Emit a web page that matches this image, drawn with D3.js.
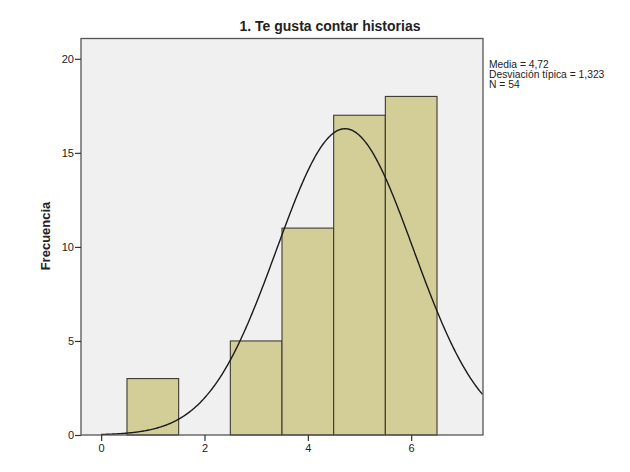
<!DOCTYPE html>
<html lang="es">
	<head>
		<meta charset="utf-8">
		<title>1. Te gusta contar historias</title>
		<script type="text/javascript" src="https://cdn.jsdelivr.net/npm/d3@7"></script>
		<style type="text/css">
			body { margin: 0; background: #fff; }
			text { font-family: "Liberation Sans", Arial, sans-serif; fill: #222; }
		</style>
	</head>
	<body>
		<script type="text/javascript">

			//Width and height
			var w = 630;
			var h = 472;

			//Histogram data (bins of width 1)
			var binCenters = [1, 2, 3, 4, 5, 6];
			var counts = [3, 0, 5, 11, 17, 18];
			var xTicks = [0, 2, 4, 6];
			var yTicks = [0, 5, 10, 15, 20];
			var stats = ["Media = 4,72", "Desviación típica = 1,323", "N = 54"];
			var mean = 4.72, sd = 1.323, n = 54;

			//Plot area (note: "top" is taken by window.top)
			var plotL = 81, plotR = 483, plotT = 38.5, plotB = 435;

			var xScale = d3.scaleLinear()
							.domain([-0.39, 7.39])
							.range([plotL, plotR]);

			var yScale = d3.scaleLinear()
							.domain([0, 21.08])
							.range([plotB, plotT]);

			var svg = d3.select("body")
						.append("svg")
						.attr("width", w)
						.attr("height", h);

			//Background
			svg.append("rect")
			   .attr("x", plotL)
			   .attr("y", plotT)
			   .attr("width", plotR - plotL)
			   .attr("height", plotB - plotT)
			   .attr("fill", "#f0f0f0");

			//Bars
			var bins = binCenters.map(function(d, i) { return { x: d, count: counts[i] }; })
								 .filter(function(d) { return d.count > 0; });

			svg.selectAll("rect.bar")
			   .data(bins)
			   .enter()
			   .append("rect")
			   .attr("class", "bar")
			   .attr("x", function(d) { return xScale(d.x - 0.5); })
			   .attr("y", function(d) { return yScale(d.count); })
			   .attr("width", function(d) { return xScale(d.x + 0.5) - xScale(d.x - 0.5); })
			   .attr("height", function(d) { return plotB - yScale(d.count); })
			   .attr("fill", "#d3ce98")
			   .attr("stroke", "#3c3c30")
			   .attr("stroke-width", 1.1);

			//Normal curve
			var xs = d3.range(0, 7.3901, 0.02);
			var curve = d3.line()
						.x(function(d) { return xScale(d); })
						.y(function(d) {
							var z = (d - mean) / sd;
							return yScale(n / (sd * Math.sqrt(2 * Math.PI)) * Math.exp(-0.5 * z * z));
						});
			svg.append("path")
			   .datum(xs)
			   .attr("d", curve)
			   .attr("fill", "none")
			   .attr("stroke", "#1a1a1a")
			   .attr("stroke-width", 1.4);

			//Frame
			svg.append("rect")
			   .attr("x", plotL)
			   .attr("y", plotT)
			   .attr("width", plotR - plotL)
			   .attr("height", plotB - plotT)
			   .attr("fill", "none")
			   .attr("stroke", "#555")
			   .attr("stroke-width", 1.3);

			//Axes
			var xAxis = d3.axisBottom(xScale).tickValues(xTicks).tickSize(6).tickSizeOuter(0);
			var yAxis = d3.axisLeft(yScale).tickValues(yTicks).tickSize(6).tickSizeOuter(0);

			var gx = svg.append("g")
						.attr("transform", "translate(0," + plotB + ")")
						.call(xAxis);
			var gy = svg.append("g")
						.attr("transform", "translate(" + plotL + ",0)")
						.call(yAxis);

			[gx, gy].forEach(function(g) {
				g.select(".domain").remove();
				g.selectAll("line").attr("stroke", "#333").attr("stroke-width", 1.2);
				g.selectAll("text")
				 .attr("font-size", "11px")
				 .attr("font-family", "'Liberation Sans', Arial, sans-serif")
				 .attr("fill", "#222");
			});
			gy.selectAll("text").attr("x", -7);
			gx.selectAll("text").attr("y", 9);

			//Title
			svg.append("text")
			   .attr("x", 330)
			   .attr("y", 31)
			   .attr("text-anchor", "middle")
			   .attr("font-size", "14px")
			   .attr("font-weight", "bold")
			   .text("1. Te gusta contar historias");

			//Y label
			svg.append("text")
			   .attr("transform", "translate(50,236) rotate(-90)")
			   .attr("text-anchor", "middle")
			   .attr("font-size", "13px")
			   .attr("font-weight", "bold")
			   .text("Frecuencia");

			//Stats
			svg.selectAll("text.stat")
			   .data(stats)
			   .enter()
			   .append("text")
			   .attr("class", "stat")
			   .attr("x", 489)
			   .attr("y", function(d, i) { return 68 + i * 9.8; })
			   .attr("font-size", "10.3px")
			   .text(function(d) { return d; });

		</script>
	</body>
</html>
